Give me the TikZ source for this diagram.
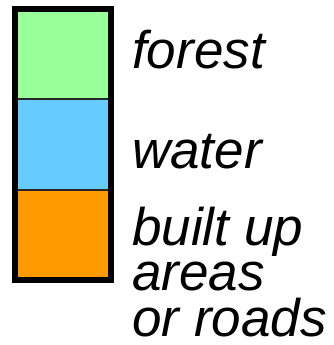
\documentclass[tikz,border=0pt]{standalone}
\usepackage{fontspec}
\setmainfont{Liberation Sans}
\begin{document}
\begin{tikzpicture}[x=1pt,y=-1pt,
  swatch/.style={draw=none,inner sep=0pt,outer sep=0pt,minimum width=90pt,anchor=north west},
  label/.style={anchor=base west,inner sep=0pt,align=left,font=\fontsize{53}{45.5}\selectfont\itshape},
  divider/.style={draw=black!85,line width=1.5pt},
  frame/.style={draw=black,line width=6pt}]
\useasboundingbox (0,0) rectangle (334,345);
% colour swatches
\node[swatch,fill={rgb,255:red,153;green,255;blue,153},minimum height=87pt] (forest) at (18,12) {};
\node[swatch,fill={rgb,255:red,102;green,204;blue,255},minimum height=91pt] (water) at (18,99) {};
\node[swatch,fill={rgb,255:red,255;green,153;blue,0},minimum height=87pt] (built) at (18,190) {};
% separators and outer frame
\draw[divider] (forest.south west) -- (forest.south east);
\draw[divider] (water.south west) -- (water.south east);
\draw[frame] (15,9) rectangle (111,280);
% legend texts (the three-line label is placed by the baseline of its last line)
\node[label] (tforest) at (132,68) {forest};
\node[label] (twater) at (132,168) {water};
\node[label] (tbuilt) at (132,336) {built up\\areas\\or roads};
\end{tikzpicture}
\end{document}
